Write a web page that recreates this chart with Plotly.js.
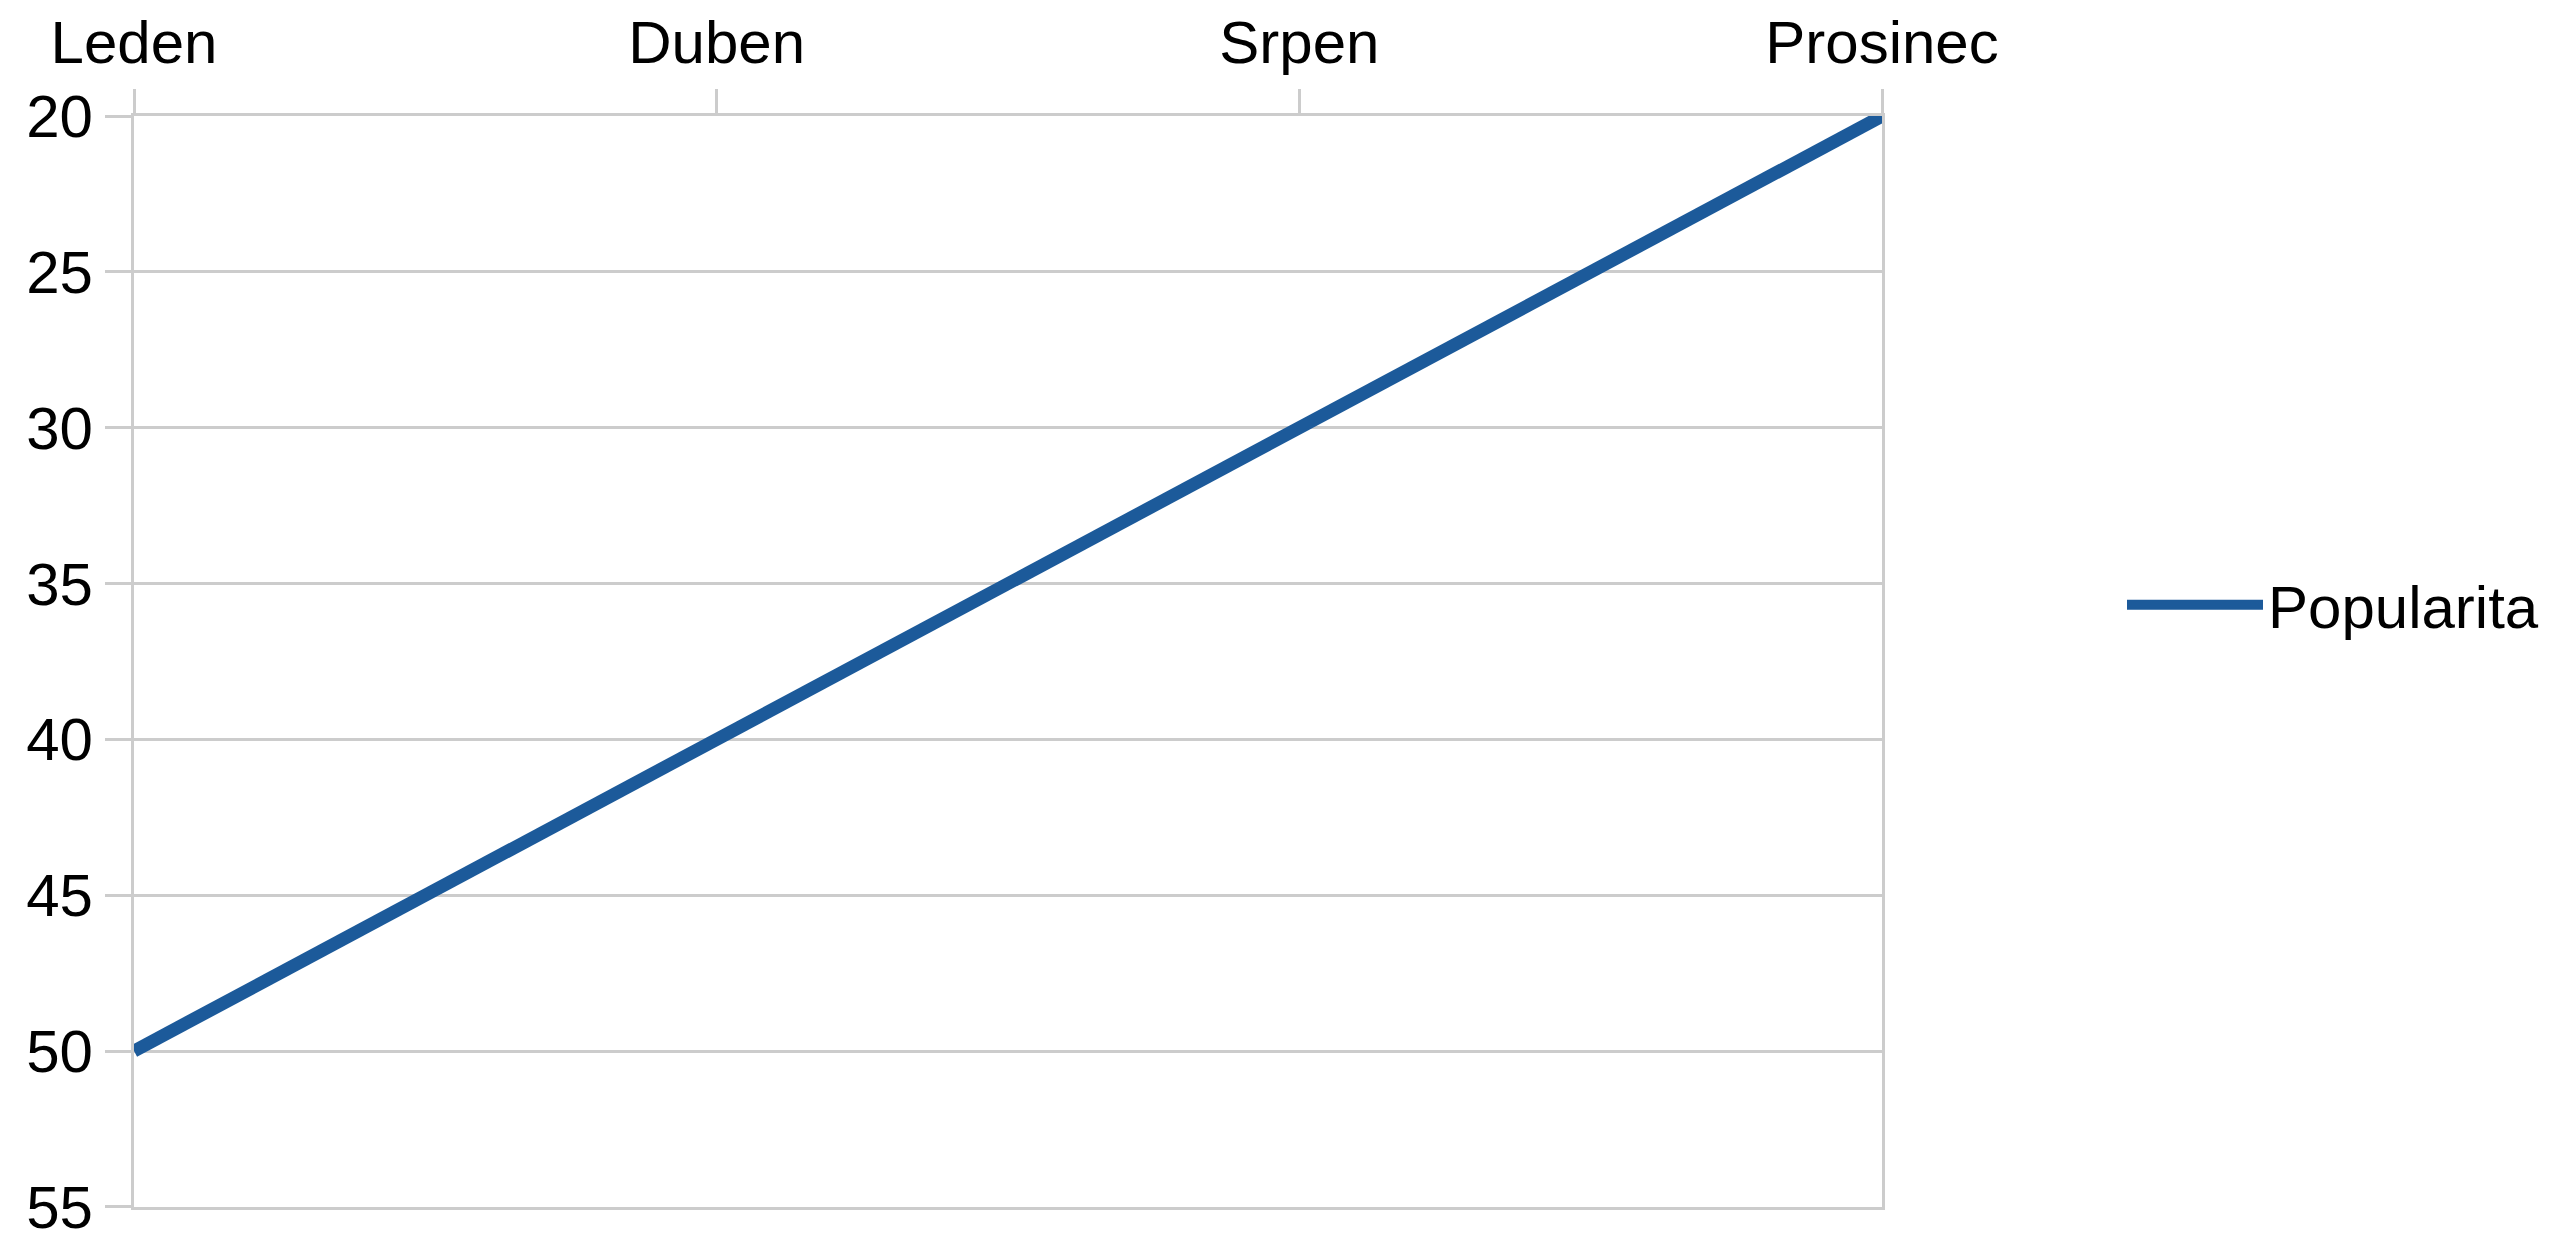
<!DOCTYPE html>
<html>
<head>
<meta charset="utf-8">
<script src="https://cdn.plot.ly/plotly-3.0.1.min.js"></script>
<style>html,body{margin:0;padding:0;background:#fff;}#chart{width:2560px;height:1237px;}</style>
</head>
<body>
<div id="chart"></div>
<script>
const months = ["Leden", "Duben", "Srpen", "Prosinec"];
const popularita = [50, 40, 30, 20];
const seriesName = "Popularita";
const yTicks = [20, 25, 30, 35, 40, 45, 50, 55];

const grid = '#cccccc';
const font = {family: '"Liberation Sans", Arial, sans-serif', size: 60, color: '#000'};

Plotly.newPlot('chart', [{
  x: months,
  y: popularita,
  name: seriesName,
  type: 'scatter',
  mode: 'lines',
  line: {color: '#1c5a9a', width: 13},
  showlegend: true
}], {
  width: 2560, height: 1237,
  paper_bgcolor: '#fff', plot_bgcolor: '#fff',
  font: font,
  margin: {l: 134, r: 678, t: 116, b: 30},
  xaxis: {
    type: 'category', side: 'top', range: [0, 3],
    showgrid: false, zeroline: false,
    showline: true, mirror: true, linecolor: grid, linewidth: 3,
    ticks: 'outside', ticklen: 24, tickwidth: 3, tickcolor: grid,
    ticklabelstandoff: 2, ticklabeloverflow: 'allow',
    tickfont: font, fixedrange: true
  },
  yaxis: {
    range: [55.005, 19.995], tickvals: yTicks,
    showgrid: true, gridcolor: grid, gridwidth: 3,
    zeroline: false, showline: true, mirror: true, linecolor: grid, linewidth: 3,
    ticks: 'outside', ticklen: 26, tickwidth: 3, tickcolor: grid,
    ticklabeloverflow: 'allow',
    tickfont: font, fixedrange: true
  },
  legend: {
    x: 1.1373, xanchor: 'left', xref: 'paper',
    y: 0.552, yanchor: 'middle',
    font: font, itemwidth: 136, bgcolor: 'rgba(0,0,0,0)'
  },
  showlegend: true
}, {displayModeBar: false, staticPlot: true});
</script>
</body>
</html>
